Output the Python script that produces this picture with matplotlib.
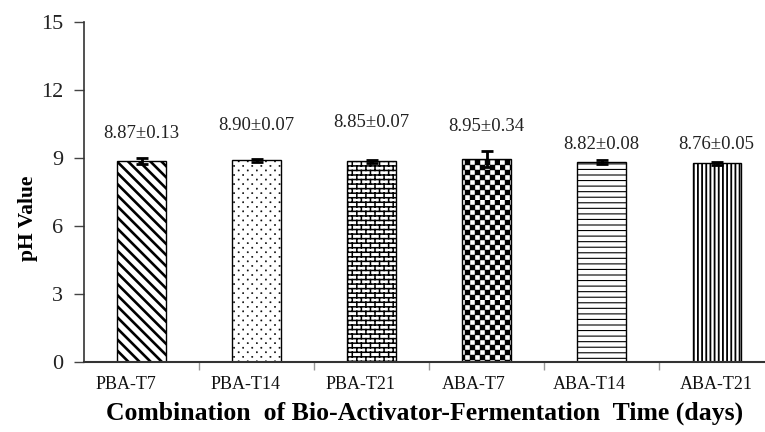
import warnings
import numpy as np
import matplotlib
matplotlib.use("Agg")
import matplotlib.pyplot as plt
import matplotlib.hatch as mhatch
import matplotlib.transforms as mtransforms
from matplotlib.path import Path

warnings.filterwarnings("ignore")

# ---------------- data ----------------
categories = ["PBA-T7", "PBA-T14", "PBA-T21", "ABA-T7", "ABA-T14", "ABA-T21"]
means = [8.87, 8.90, 8.85, 8.95, 8.82, 8.76]
errors = [0.13, 0.07, 0.07, 0.34, 0.08, 0.05]
value_labels = ["8.87±0.13", "8.90±0.07", "8.85±0.07", "8.95±0.34", "8.82±0.08", "8.76±0.05"]
y_ticks = [0, 3, 6, 9, 12, 15]

# layout: annotation heights (data units) and tick-label shifts (points)
label_heights = [10.1, 10.45, 10.55, 10.4, 9.6, 9.6]
ticklabel_shift_pt = [-11, -8, -8, -9, -9, 0]


# ---------------- custom hatch patterns ----------------
class BrickHatch(mhatch.HatchPatternBase):
    def __init__(self, hatch, density):
        self.on = 'b' in hatch
        self.rows = 22
        self.cols = 11
        if self.on:
            self.num_vertices = self.rows * 2 + (self.rows - 1) * self.cols * 2 + self.cols * 4
        else:
            self.num_vertices = 0

    def set_vertices_and_codes(self, vertices, codes):
        rh = 1.0 / self.rows
        cw = 1.0 / self.cols
        k = 0
        for r in range(self.rows):
            y = (r + 0.5) * rh
            vertices[k] = (0.0, y)
            vertices[k + 1] = (1.0, y)
            codes[k] = Path.MOVETO
            codes[k + 1] = Path.LINETO
            k += 2
        for r in range(self.rows):
            off = cw * 0.25 if r % 2 == 0 else cw * 0.75
            y0 = (r + 0.5) * rh
            y1 = (r + 1.5) * rh
            for c in range(self.cols):
                xx = c * cw + off
                if r < self.rows - 1:
                    vertices[k] = (xx, y0)
                    vertices[k + 1] = (xx, y1)
                    codes[k] = Path.MOVETO
                    codes[k + 1] = Path.LINETO
                    k += 2
                else:
                    vertices[k] = (xx, y0)
                    vertices[k + 1] = (xx, 1.0)
                    vertices[k + 2] = (xx, 0.0)
                    vertices[k + 3] = (xx, 0.5 * rh)
                    codes[k] = Path.MOVETO
                    codes[k + 1] = Path.LINETO
                    codes[k + 2] = Path.MOVETO
                    codes[k + 3] = Path.LINETO
                    k += 4


class CheckerHatch(mhatch.HatchPatternBase):
    def __init__(self, hatch, density):
        self.on = 'c' in hatch
        self.n = 20
        self.num_vertices = (self.n * self.n // 2) * 5 if self.on else 0

    def set_vertices_and_codes(self, vertices, codes):
        s = 1.0 / self.n
        k = 0
        for i in range(self.n):
            for j in range(self.n):
                if (i + j) % 2 == 0:
                    x0, y0 = i * s, j * s
                    vertices[k:k + 5] = [(x0, y0), (x0 + s, y0), (x0 + s, y0 + s),
                                         (x0, y0 + s), (x0, y0)]
                    codes[k:k + 5] = [Path.MOVETO, Path.LINETO, Path.LINETO,
                                      Path.LINETO, Path.CLOSEPOLY]
                    k += 5


class FineDotHatch(mhatch.HatchPatternBase):
    def __init__(self, hatch, density):
        self.on = 'p' in hatch
        self.rows = 22
        self.cols = 11
        self.num_vertices = self.rows * self.cols * 5 if self.on else 0

    def set_vertices_and_codes(self, vertices, codes):
        rh = 1.0 / self.rows
        cw = 1.0 / self.cols
        d = 0.006
        k = 0
        for r in range(self.rows):
            off = cw * 0.25 if r % 2 == 0 else cw * 0.75
            y = (r + 0.5) * rh
            for c in range(self.cols):
                xx = c * cw + off
                vertices[k:k + 5] = [(xx - d, y - d), (xx + d, y - d), (xx + d, y + d),
                                     (xx - d, y + d), (xx - d, y - d)]
                codes[k:k + 5] = [Path.MOVETO, Path.LINETO, Path.LINETO,
                                  Path.LINETO, Path.CLOSEPOLY]
                k += 5


mhatch._hatch_types.extend([BrickHatch, CheckerHatch, FineDotHatch])

hatches = ["\\\\\\", "p", "b", "c", "---", "||||"]
hatch_lws = [1.9, 0.3, 1.1, 0.3, 0.8, 1.3]

# ---------------- figure ----------------
serif = ["Liberation Serif", "DejaVu Serif"]
plt.rcParams["font.family"] = serif

fig = plt.figure(figsize=(7.65, 4.32), dpi=100)
ax = fig.add_axes([84 / 765, 1 - 362 / 432, (765 - 84) / 765, (362 - 22) / 432])

x = np.arange(len(categories))
for i in range(len(categories)):
    with plt.rc_context({"hatch.linewidth": hatch_lws[i], "hatch.color": "black"}):
        bars = ax.bar(x[i], means[i], width=0.42, color="white", edgecolor="black",
                      linewidth=1.0, hatch=hatches[i], zorder=2)
        for b in bars:
            if hasattr(b, "set_hatch_linewidth"):
                b.set_hatch_linewidth(hatch_lws[i])

ax.errorbar(x, means, yerr=errors, fmt="none", ecolor="black", elinewidth=2.0,
            capsize=4, capthick=2.0, zorder=3)

for i in range(len(categories)):
    ax.text(x[i], label_heights[i], value_labels[i], ha="center", va="center",
            fontsize=13.5, color="#222222")

ax.set_xlim(-0.5, 5.42)
ax.set_ylim(0, 15)
ax.set_yticks(y_ticks)
ax.set_yticklabels([str(t) for t in y_ticks], fontsize=16, color="#222222")
ax.tick_params(axis="y", length=7, width=1, pad=8, color="#444444")

ax.set_xticks(x)
ax.set_xticklabels(categories, fontsize=13, color="#111111")
ax.tick_params(axis="x", which="major", length=0, pad=10)
ax.set_xticks(np.arange(0.5, 5.0, 1.0), minor=True)
ax.tick_params(axis="x", which="minor", length=6, width=1, color="#999999")
for lbl, sh in zip(ax.get_xticklabels(), ticklabel_shift_pt):
    lbl.set_transform(lbl.get_transform() +
                      mtransforms.ScaledTranslation(sh / 72, 0, fig.dpi_scale_trans))

for s in ["top", "right"]:
    ax.spines[s].set_visible(False)
ax.spines["left"].set_color("#333333")
ax.spines["bottom"].set_color("#333333")
ax.spines["left"].set_linewidth(1.2)
ax.spines["bottom"].set_linewidth(1.5)

ax.set_ylabel("pH Value", fontsize=15.5, fontweight="bold")
ax.yaxis.set_label_coords((38 - 84) / 681, (362 - 218) / 340)
ax.set_xlabel("Combination  of Bio-Activator-Fermentation  Time (days)",
              fontsize=18.5, fontweight="bold", labelpad=6)

fig.savefig("out.png", dpi=100)
